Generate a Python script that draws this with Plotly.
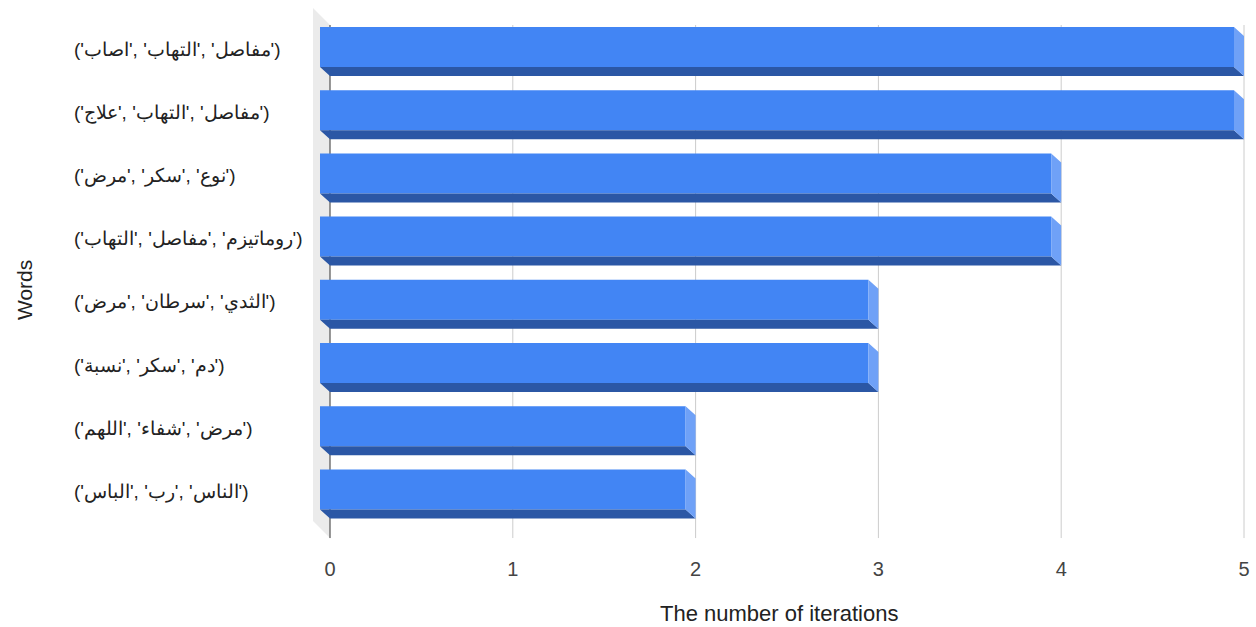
import plotly.graph_objects as go

# ---- data ----
word_triples = [
    ["اصاب", "التهاب", "مفاصل"],
    ["علاج", "التهاب", "مفاصل"],
    ["مرض", "سكر", "نوع"],
    ["التهاب", "مفاصل", "روماتيزم"],
    ["مرض", "سرطان", "الثدي"],
    ["نسبة", "سكر", "دم"],
    ["اللهم", "شفاء", "مرض"],
    ["الباس", "رب", "الناس"],
]
iterations = [5, 5, 4, 4, 3, 3, 2, 2]
x_ticks = [0, 1, 2, 3, 4, 5]
x_title = "The number of iterations"
y_title = "Words"

LRM = "\u200e"
labels = ["(" + (",%s " % LRM).join("'%s'" % w for w in t) + ")" for t in word_triples]

# ---- geometry (3D look) ----
px_per_x = 182.8
px_per_y = 63.2
dx = 10 / px_per_x          # depth offset in x units
dy = 9 / px_per_y           # depth offset in y units
h = 20 / px_per_y           # half bar thickness
y_top, y_bot = -0.7595, 7.737
wall_dx = 17 / px_per_x
grid_top = -0.4905
grid_bot = 7.627

pos = list(range(len(iterations)))

FRONT = "#4285f4"
BOTTOM = "#2b57a5"
SIDE = "#6fa1f7"

fig = go.Figure()

# front faces
fig.add_trace(go.Bar(
    orientation="h",
    y=[p - dy for p in pos],
    x=iterations,
    base=[-dx] * len(iterations),
    width=2 * h,
    marker=dict(color=FRONT, line=dict(width=0)),
    hoverinfo="skip",
    showlegend=False,
))

# bottom faces
bx, by = [], []
for p, v in zip(pos, iterations):
    bx += [-dx, v - dx, v, 0, -dx, None]
    by += [p - dy + h, p - dy + h, p + h, p + h, p - dy + h, None]
fig.add_trace(go.Scatter(x=bx, y=by, mode="lines", fill="toself", fillcolor=BOTTOM,
                         line=dict(width=0, color=BOTTOM), hoverinfo="skip", showlegend=False))

# side faces
sx, sy = [], []
for p, v in zip(pos, iterations):
    sx += [v - dx, v, v, v - dx, v - dx, None]
    sy += [p - dy - h, p - h, p + h, p - dy + h, p - dy - h, None]
fig.add_trace(go.Scatter(x=sx, y=sy, mode="lines", fill="toself", fillcolor=SIDE,
                         line=dict(width=0, color=SIDE), hoverinfo="skip", showlegend=False))

shapes = []
# left wall
shapes.append(dict(type="path", xref="x", yref="y", layer="below",
                   path=f"M {-wall_dx},{y_top} L 0,{grid_top} L 0,{grid_bot} L {-wall_dx},{grid_bot - (grid_top - y_top)} Z",
                   fillcolor="#ebebeb", line=dict(width=0)))
# gridlines
for k in x_ticks:
    shapes.append(dict(type="line", xref="x", yref="y", layer="below",
                       x0=k, x1=k, y0=grid_top, y1=grid_bot,
                       line=dict(color="#333333" if k == 0 else "#cccccc", width=1)))

annotations = []
for p, lab in zip(pos, labels):
    annotations.append(dict(text=lab, xref="paper", yref="y", x=(72 - 300) / 950, y=p - 0.1,
                            xanchor="left", yanchor="middle", showarrow=False,
                            font=dict(family="Arial", size=19, color="#222222")))
annotations.append(dict(text=y_title, xref="paper", yref="paper", x=(24 - 300) / 950, y=(545 - 290) / 537,
                        xanchor="center", yanchor="middle", textangle=-90, showarrow=False,
                        font=dict(family="Arial", size=21, color="#222222")))
annotations.append(dict(text=x_title, xref="paper", yref="paper", x=(779 - 300) / 950, y=(545 - 613) / 537,
                        xanchor="center", yanchor="middle", showarrow=False,
                        font=dict(family="Arial", size=22, color="#222222")))

fig.update_layout(
    width=1256, height=627, autosize=False,
    margin=dict(l=300, r=6, t=8, b=82),
    paper_bgcolor="white", plot_bgcolor="white",
    barmode="overlay",
    shapes=shapes,
    annotations=annotations,
    xaxis=dict(range=[-30 / px_per_x, 5 + 6 / px_per_x], tickvals=x_ticks,
               showgrid=False, zeroline=False, showline=False,
               ticks="outside", ticklen=6, tickcolor="rgba(0,0,0,0)",
               tickfont=dict(family="Arial", size=20, color="#444444")),
    yaxis=dict(range=[y_bot, y_top], showticklabels=False, showgrid=False,
               zeroline=False, showline=False, ticks=""),
)

fig.write_html("out.html")
